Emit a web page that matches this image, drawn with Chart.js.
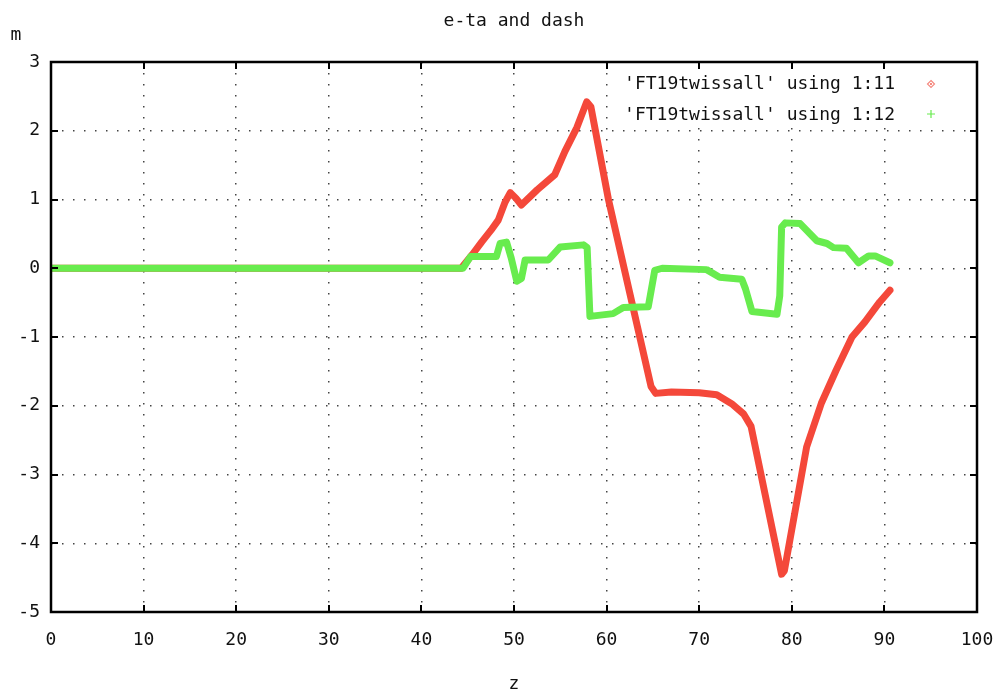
<!DOCTYPE html>
<html>
<head>
<meta charset="utf-8">
<script src="https://cdn.jsdelivr.net/npm/chart.js@4/dist/chart.umd.min.js"></script>
<style>
html,body{margin:0;padding:0;background:#fff;}
#wrap{width:995px;height:697px;}
</style>
</head>
<body>
<div id="wrap"><canvas id="c" width="995" height="697"></canvas></div>
<script>
// ---- data ----
const titleText = "e-ta and dash";
const xTitle = "z";
const yTitle = "m";
const xTicks = [0, 10, 20, 30, 40, 50, 60, 70, 80, 90, 100];
const yTicks = [3, 2, 1, 0, -1, -2, -3, -4, -5];

const labelEta = "'FT19twissall' using 1:11";
const labelDash = "'FT19twissall' using 1:12";

const etaZ = [0, 44.3, 45.5, 46.5, 47.5, 48.3, 49.0, 49.6, 50.2, 50.8, 52.5, 54.4, 55.5, 56.8, 57.85, 58.3, 60.2, 62.5, 64.8, 65.3, 67.0, 70.0, 71.9, 73.5, 74.8, 75.6, 78.9, 79.2, 81.6, 83.2, 84.8, 86.5, 87.9, 89.5, 90.6];
const etaV = [0, 0.0, 0.2, 0.38, 0.55, 0.7, 0.95, 1.1, 1.02, 0.92, 1.14, 1.36, 1.7, 2.05, 2.42, 2.35, 1.0, -0.36, -1.72, -1.82, -1.8, -1.81, -1.84, -1.97, -2.12, -2.3, -4.45, -4.4, -2.6, -1.96, -1.48, -1.0, -0.78, -0.49, -0.32];

const dashZ = [0, 44.5, 45.3, 48.1, 48.5, 49.2, 49.7, 50.3, 50.8, 51.2, 53.7, 55.0, 57.5, 57.9, 58.2, 60.7, 61.8, 64.5, 65.2, 66.0, 70.8, 72.2, 74.6, 75.0, 75.7, 78.4, 78.7, 78.9, 79.3, 80.9, 82.7, 83.8, 84.5, 85.9, 87.2, 88.3, 89.0, 90.6];
const dashV = [0, 0, 0.17, 0.17, 0.36, 0.38, 0.15, -0.19, -0.15, 0.12, 0.12, 0.31, 0.34, 0.3, -0.70, -0.66, -0.57, -0.56, -0.03, 0, -0.02, -0.13, -0.16, -0.3, -0.63, -0.67, -0.4, 0.6, 0.66, 0.65, 0.4, 0.36, 0.3, 0.29, 0.08, 0.18, 0.18, 0.08];

const RED = '#f4483a';
const GREEN = '#68ec4e';
const FONT = '"DejaVu Sans Mono", "Liberation Mono", monospace';
const FSIZE = 18;

function pts(xs, ys) { return xs.map((x, i) => ({x: x, y: ys[i]})); }

const decor = {
  id: 'decor',
  beforeDatasetsDraw(chart) {
    const ctx = chart.ctx, a = chart.chartArea;
    ctx.save();
    ctx.fillStyle = '#fff';
    ctx.fillRect(a.right - 368, a.top + 2, 366, 64);
    ctx.restore();
  },
  afterDatasetsDraw(chart) {
    const ctx = chart.ctx, a = chart.chartArea;
    const xs = chart.scales.x, ys = chart.scales.y;
    ctx.save();
    ctx.strokeStyle = '#000';
    ctx.lineWidth = 2.5;
    ctx.strokeRect(a.left, a.top, a.right - a.left, a.bottom - a.top);
    ctx.lineWidth = 2;
    const tl = 7;
    ctx.beginPath();
    xTicks.forEach(v => {
      const p = Math.round(xs.getPixelForValue(v));
      ctx.moveTo(p, a.bottom); ctx.lineTo(p, a.bottom - tl);
      ctx.moveTo(p, a.top); ctx.lineTo(p, a.top + tl);
    });
    yTicks.forEach(v => {
      const p = Math.round(ys.getPixelForValue(v));
      ctx.moveTo(a.left, p); ctx.lineTo(a.left + tl, p);
      ctx.moveTo(a.right, p); ctx.lineTo(a.right - tl, p);
    });
    ctx.stroke();

    ctx.fillStyle = '#111';
    ctx.font = FSIZE + 'px ' + FONT;
    ctx.textBaseline = 'alphabetic';
    ctx.textAlign = 'center';
    ctx.fillText(titleText, (a.left + a.right) / 2, 26);
    ctx.fillText(xTitle, (a.left + a.right) / 2, 689);
    ctx.fillText(yTitle, 16, 40);

    const ds = chart.data.datasets;
    ctx.textAlign = 'right';
    const keyBase = [89, 120];
    ds.forEach((d, i) => {
      ctx.fillStyle = '#111';
      ctx.fillText(d.label, 895, keyBase[i]);
    });
    const mx = 931;
    ctx.lineWidth = 1.2;
    ctx.strokeStyle = '#f58a80';
    ctx.beginPath();
    const my1 = 84;
    ctx.moveTo(mx, my1 - 3.5); ctx.lineTo(mx + 3.5, my1); ctx.lineTo(mx, my1 + 3.5); ctx.lineTo(mx - 3.5, my1); ctx.closePath();
    ctx.stroke();
    ctx.fillStyle = '#f58a80';
    ctx.fillRect(mx - 1, my1 - 1, 2, 2);
    ctx.strokeStyle = GREEN;
    ctx.beginPath();
    const my2 = 114;
    ctx.moveTo(mx - 4, my2); ctx.lineTo(mx + 4, my2);
    ctx.moveTo(mx, my2 - 4); ctx.lineTo(mx, my2 + 4);
    ctx.stroke();
    ctx.restore();
  }
};

new Chart(document.getElementById('c'), {
  type: 'scatter',
  data: {
    datasets: [
      { label: labelEta, data: pts(etaZ, etaV), showLine: true, borderColor: RED, backgroundColor: RED,
        borderWidth: 7, pointRadius: 0, borderJoinStyle: 'round', borderCapStyle: 'round', order: 2 },
      { label: labelDash, data: pts(dashZ, dashV), showLine: true, borderColor: GREEN, backgroundColor: GREEN,
        borderWidth: 7, pointRadius: 0, borderJoinStyle: 'round', borderCapStyle: 'round', order: 1 }
    ]
  },
  options: {
    responsive: false,
    animation: false,
    devicePixelRatio: 1,
    layout: { padding: { top: 62, right: 18, left: 0, bottom: 0 } },
    plugins: { legend: { display: false }, title: { display: false }, tooltip: { enabled: false } },
    scales: {
      x: {
        type: 'linear', min: 0, max: 100,
        afterBuildTicks: s => { s.ticks = xTicks.map(v => ({value: v})); },
        afterFit: s => { s.height = 85; s.paddingLeft = 0; s.paddingRight = 0; },
        grid: { color: '#444', lineWidth: 1.5, drawTicks: false },
        border: { display: false, dash: [1.5, 9.5] },
        ticks: { font: { family: FONT, size: FSIZE }, color: '#111', padding: 18, maxRotation: 0 }
      },
      y: {
        type: 'linear', min: -5, max: 3,
        afterBuildTicks: s => { s.ticks = yTicks.map(v => ({value: v})); },
        afterFit: s => { s.width = 51; s.paddingTop = 0; s.paddingBottom = 0; },
        grid: { color: '#444', lineWidth: 1.5, drawTicks: false },
        border: { display: false, dash: [1.5, 9.5] },
        ticks: { font: { family: FONT, size: FSIZE }, color: '#111', padding: 11 }
      }
    }
  },
  plugins: [decor]
});
</script>
</body>
</html>
